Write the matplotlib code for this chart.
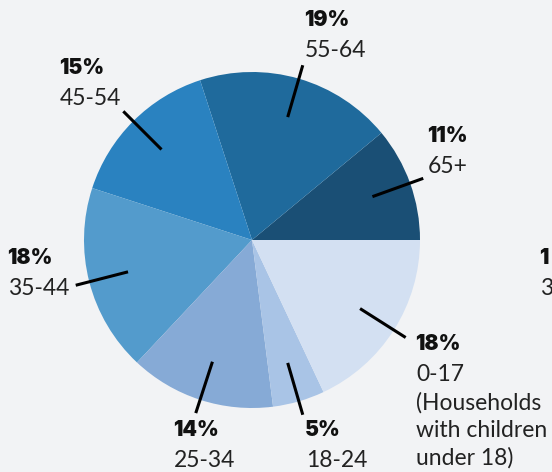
import matplotlib.pyplot as plt
import numpy as np

ages = ['0-17\n(Households\nwith children\nunder 18)', '18-24', '25-34', '35-44', '45-54', '55-64', '65+']
shares = [18, 5, 14, 18, 15, 19, 11]
colors = ['#d3e0f2', '#a9c4e6', '#86aad6', '#539bcc', '#2a82c0', '#1f6a9c', '#1a4f75']

# pie drawn starting at 3 o'clock going counterclockwise, 65+ first
order = [6, 5, 4, 3, 2, 1, 0]

# top-left of each label block, in pixels
label_pos = {
    '65+': (428, 126),
    '55-64': (305, 10),
    '45-54': (60, 58),
    '35-44': (8, 248),
    '25-34': (174, 420),
    '18-24': (306, 420),
    '0-17': (416, 334),
}

W, H = 552, 472
cx, cy, R = 252, 240, 168

fig = plt.figure(figsize=(W / 100, H / 100), dpi=100)
fig.patch.set_facecolor('#f2f3f5')
ax = fig.add_axes([0, 0, 1, 1])

vals = [shares[i] for i in order]
cols = [colors[i] for i in order]
ax.pie(vals, colors=cols, startangle=0, counterclock=False,
       center=(cx, cy), radius=R, frame=True,
       wedgeprops=dict(linewidth=0, antialiased=True))
ax.set_xlim(0, W)
ax.set_ylim(H, 0)
ax.set_aspect('equal')
ax.axis('off')

angles = np.cumsum([0] + vals) / 100 * 360
for k, i in enumerate(order):
    mid = np.radians((angles[k] + angles[k + 1]) / 2)
    r1, r2 = 128, 182
    ax.plot([cx + r1 * np.cos(mid), cx + r2 * np.cos(mid)],
            [cy - r1 * np.sin(mid), cy - r2 * np.sin(mid)],
            color='black', lw=2.2, solid_capstyle='butt')
    key = ages[i].split('\n')[0]
    tx, ty = label_pos[key]
    ax.text(tx - 1, ty, f'{shares[i]}%', fontsize=15, family='Inter',
            fontweight=900, color='#111111', va='top', ha='left')
    ax.text(tx, ty + 30, ages[i], fontsize=16.5, family='Lato', fontweight=400,
            color='#222222', va='top', ha='left', linespacing=1.38)

# neighbouring chart cut off at the right edge
ax.text(539, 248, '1', fontsize=15, family='Inter', fontweight=900,
        color='#111111', va='top', ha='left')
ax.text(540, 278, '3', fontsize=16.5, family='Lato', fontweight=400,
        color='#222222', va='top', ha='left')

fig.savefig('out.png', dpi=100, facecolor=fig.get_facecolor())
